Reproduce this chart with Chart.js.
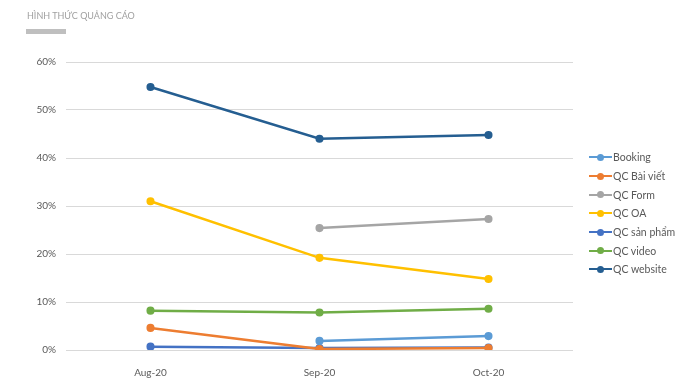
<!DOCTYPE html>
<html>
<head>
<meta charset="utf-8">
<script src="https://cdn.jsdelivr.net/npm/chart.js@4/dist/chart.umd.min.js"></script>
<style>
  body { margin: 0; background: #fff; font-family: Lato, "Open Sans", sans-serif; }
  #wrap { position: relative; width: 700px; height: 382px; }
  #title { position: absolute; left: 27px; top: 10px; font-size: 9px; color: #a0a0a0; }
  #bar { position: absolute; left: 26px; top: 29px; width: 40px; height: 5px; background: #bfbfbf; }
  #legend { position: absolute; left: 589px; top: 148px; font-size: 10.5px; color: #595959; }
  .item { height: 18.7px; display: flex; align-items: center; }
  .sw { position: relative; width: 23px; height: 2px; margin-right: 1px; }
  .sw i { position: absolute; left: 8px; top: -2.5px; width: 7px; height: 7px; border-radius: 50%; background: inherit; }
</style>
</head>
<body>
<div id="wrap">
  <div id="title">HÌNH THỨC QUẢNG CÁO</div>
  <div id="bar"></div>
  <canvas id="chart" width="700" height="382"></canvas>
  <div id="legend"></div>
</div>
<script>
// months on the x axis
const months = ['Aug-20', 'Sep-20', 'Oct-20'];

// share per ad type, in percent (null = no data)
const booking = [null, 1.9, 2.9];
const qcBaiViet = [4.6, 0.2, 0.4];
const qcForm = [null, 25.4, 27.3];
const qcOA = [31.0, 19.2, 14.8];
const qcSanPham = [0.7, 0.4, 0.5];
const qcVideo = [8.2, 7.8, 8.6];
const qcWebsite = [54.8, 44.0, 44.8];

const yTicks = [0, 10, 20, 30, 40, 50, 60];

const series = [
  { label: 'Booking', data: booking, color: '#5b9bd5' },
  { label: 'QC Bài viết', data: qcBaiViet, color: '#ed7d31' },
  { label: 'QC Form', data: qcForm, color: '#a5a5a5' },
  { label: 'QC OA', data: qcOA, color: '#ffc000' },
  { label: 'QC sản phẩm', data: qcSanPham, color: '#4472c4' },
  { label: 'QC video', data: qcVideo, color: '#70ad47' },
  { label: 'QC website', data: qcWebsite, color: '#255e91' }
];

const datasets = series.map(s => ({
  label: s.label,
  data: s.data,
  borderColor: s.color,
  backgroundColor: s.color,
  borderWidth: 2.5,
  pointRadius: 2.8,
  pointHoverRadius: 2.8,
  tension: 0,
  spanGaps: false
}));

// legend
const legend = document.getElementById('legend');
series.forEach(s => {
  const row = document.createElement('div');
  row.className = 'item';
  row.innerHTML = '<span class="sw" style="background:' + s.color + '"><i></i></span>' + s.label;
  legend.appendChild(row);
});

const ctx = document.getElementById('chart').getContext('2d');
new Chart(ctx, {
  type: 'line',
  data: { labels: months, datasets: datasets },
  options: {
    responsive: false,
    animation: false,
    layout: { padding: { top: 62, right: 127, left: 0, bottom: 0 } },
    plugins: {
      legend: { display: false },
      tooltip: { enabled: false }
    },
    scales: {
      x: {
        offset: true,
        grid: { display: false },
        border: { display: false },
        ticks: { color: '#595959', font: { size: 10, family: 'Lato' }, padding: 9, maxRotation: 0 },
        afterFit: scale => { scale.height = 32; }
      },
      y: {
        min: 0,
        max: 60,
        afterBuildTicks: scale => { scale.ticks = yTicks.map(v => ({ value: v })); },
        grid: { color: '#d9d9d9', drawTicks: false },
        border: { display: false },
        ticks: {
          color: '#595959',
          font: { size: 10, family: 'Lato' },
          padding: 10,
          callback: v => v + '%'
        },
        afterFit: scale => { scale.width = 66; }
      }
    }
  }
});
</script>
</body>
</html>
